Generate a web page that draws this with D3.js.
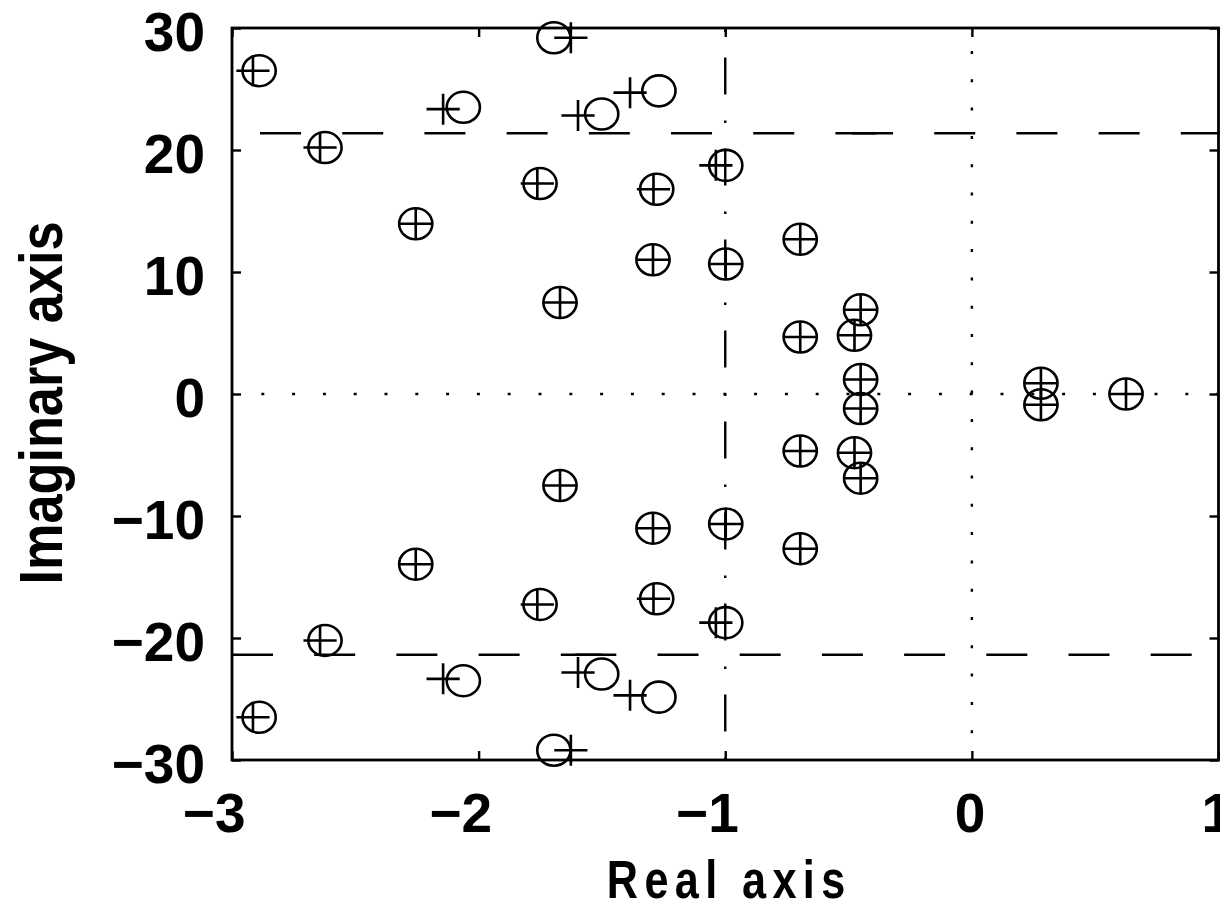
<!DOCTYPE html>
<html>
<head>
<meta charset="utf-8">
<script src="https://cdn.jsdelivr.net/npm/d3@7"></script>
<style>
  html, body { margin: 0; padding: 0; background: #fff; }
  svg { display: block; }
  text { font-family: "Liberation Sans", Arial, Helvetica, sans-serif; font-weight: bold; fill: #000; }
</style>
</head>
<body>
<svg id="chart" width="1220" height="905"></svg>
<script>
// Axis ticks
const xTicks = [-3, -2, -1, 0, 1];
const yTicks = [-30, -20, -10, 0, 10, 20, 30];

// Zeros (drawn as circles): [real, imaginary]
const zeros = [
  [-2.890, 26.5], [-2.890, -26.5],
  [-2.623, 20.2], [-2.623, -20.2],
  [-2.062, 23.5], [-2.062, -23.5],
  [-1.695, 29.2], [-1.695, -29.2],
  [-1.501, 22.95], [-1.501, -22.95],
  [-1.269, 24.85], [-1.269, -24.85],
  [-1.751, 17.25], [-1.751, -17.25],
  [-1.278, 16.78], [-1.278, -16.78],
  [-2.255, 13.95], [-2.255, -13.95],
  [-0.998, 18.74], [-0.998, -18.74],
  [-1.293, 11.0], [-1.293, -11.0],
  [-1.670, 7.5], [-1.670, -7.5],
  [-0.998, 10.65], [-0.998, -10.65],
  [-0.696, 12.68], [-0.696, -12.68],
  [-0.696, 4.67], [-0.696, -4.67],
  [-0.451, 6.9], [-0.451, -6.9],
  [-0.476, 4.81], [-0.476, -4.81],
  [-0.451, 1.19], [-0.451, -1.19],
  [0.280, 0.88], [0.280, -0.88],
  [0.625, 0]
];

// Poles (drawn as plus signs): [real, imaginary]
const poles = [
  [-2.915, 26.5], [-2.915, -26.5],
  [-2.643, 20.2], [-2.643, -20.2],
  [-2.144, 23.35], [-2.144, -23.35],
  [-1.626, 29.2], [-1.626, -29.2],
  [-1.597, 22.83], [-1.597, -22.83],
  [-1.386, 24.7], [-1.386, -24.7],
  [-1.762, 17.25], [-1.762, -17.25],
  [-1.291, 16.78], [-1.291, -16.78],
  [-2.255, 13.95], [-2.255, -13.95],
  [-1.038, 18.74], [-1.038, -18.74],
  [-1.293, 11.0], [-1.293, -11.0],
  [-1.670, 7.5], [-1.670, -7.5],
  [-0.998, 10.65], [-0.998, -10.65],
  [-0.696, 12.68], [-0.696, -12.68],
  [-0.696, 4.67], [-0.696, -4.67],
  [-0.451, 6.9], [-0.451, -6.9],
  [-0.476, 4.81], [-0.476, -4.81],
  [-0.451, 1.19], [-0.451, -1.19],
  [0.280, 0.88], [0.280, -0.88],
  [0.625, 0]
];

// Dashed bandwidth limits (imaginary value) drawn as segments [im, fromRe, toRe]
const limitSegments = [
  [21.37, -0.387, -3], [21.37, -0.486, 1],
  [-21.37, -3, -1.45], [-21.37, -1.608, 1]
];
const stabilityRe = -1;   // dash-dot vertical guide

const svg = d3.select("#chart");
const margin = { left: 232, right: 1218.5, top: 28, bottom: 760 };

const x = d3.scaleLinear().domain([-3, 1]).range([margin.left, margin.right]);
const y = d3.scaleLinear().domain([-30, 30]).range([margin.bottom, margin.top]);

const fmt = v => (v < 0 ? "\u2212" + Math.abs(v) : String(v));
const ink = "#000";

// Reference lines
const guides = svg.append("g").attr("fill", "none").attr("stroke", ink);

// dotted axes through the origin
guides.append("line")
  .attr("x1", x(-3)).attr("x2", x(1)).attr("y1", y(0)).attr("y2", y(0))
  .attr("stroke-width", 2.4).attr("stroke-dasharray", "3 27.8").attr("stroke-dashoffset", 1.5);
guides.append("line")
  .attr("x1", x(0)).attr("x2", x(0)).attr("y1", y(-30)).attr("y2", y(30))
  .attr("stroke-width", 2.4).attr("stroke-dasharray", "3 25.3").attr("stroke-dashoffset", 1.5);

// dash-dot line at Re = -1
guides.append("line")
  .attr("x1", x(stabilityRe)).attr("x2", x(stabilityRe)).attr("y1", y(-30)).attr("y2", y(30))
  .attr("stroke-width", 2.4).attr("stroke-dasharray", "2.5 26 37 25.5");

// dashed horizontal limits
guides.selectAll("line.limit").data(limitSegments).join("line")
  .attr("class", "limit")
  .attr("x1", d => x(d[1])).attr("x2", d => x(d[2]))
  .attr("y1", d => y(d[0])).attr("y2", d => y(d[0]))
  .attr("stroke-width", 2.4).attr("stroke-dasharray", "41 41.2");

// Markers
const rx = 16.6, ry = 15.5;
const marks = svg.append("g").attr("fill", "none").attr("stroke", ink).attr("stroke-width", 2.6);
marks.selectAll("ellipse").data(zeros).join("ellipse")
  .attr("cx", d => x(d[0])).attr("cy", d => y(d[1]))
  .attr("rx", rx).attr("ry", ry);
marks.selectAll("path").data(poles).join("path")
  .attr("d", d => {
    const cx = x(d[0]), cy = y(d[1]);
    return `M${cx - rx},${cy}H${cx + rx}M${cx},${cy - ry}V${cy + ry}`;
  });

// Axes with inward ticks on all four sides
const tickLen = 9;
const axB = svg.append("g").attr("transform", `translate(0,${margin.bottom})`)
  .call(d3.axisBottom(x).tickValues(xTicks).tickSize(-tickLen).tickFormat(fmt));
const axL = svg.append("g").attr("transform", `translate(${margin.left},0)`)
  .call(d3.axisLeft(y).tickValues(yTicks).tickSize(-tickLen).tickFormat(fmt));
svg.append("g").attr("transform", `translate(0,${margin.top})`)
  .call(d3.axisTop(x).tickValues(xTicks).tickSize(-tickLen).tickFormat(""));
svg.append("g").attr("transform", `translate(${margin.right},0)`)
  .call(d3.axisRight(y).tickValues(yTicks).tickSize(-tickLen).tickFormat(""));

svg.selectAll(".domain").remove();
svg.selectAll(".tick line").attr("stroke", ink).attr("stroke-width", 2.4);

axB.selectAll(".tick text")
  .attr("y", 72).attr("dy", 0).attr("dx", 13)
  .attr("text-anchor", "end")
  .style("font-size", "55px").style("font-family", "'Liberation Sans', Arial, sans-serif")
  .style("font-weight", "bold").attr("fill", ink);
axL.selectAll(".tick text")
  .attr("x", 205 - margin.left).attr("dy", 0).attr("y", 22)
  .attr("text-anchor", "end")
  .style("font-size", "55px").style("font-family", "'Liberation Sans', Arial, sans-serif")
  .style("font-weight", "bold").attr("fill", ink);

// Box
svg.append("rect")
  .attr("x", margin.left).attr("y", margin.top)
  .attr("width", margin.right - margin.left).attr("height", margin.bottom - margin.top)
  .attr("fill", "none").attr("stroke", ink).attr("stroke-width", 2.8);

// Axis titles
svg.append("text")
  .attr("transform", `translate(${(margin.left + margin.right) / 2 + 4},898) scale(0.8,1)`)
  .attr("text-anchor", "middle")
  .attr("letter-spacing", 8)
  .style("font-size", "54px")
  .text("Real axis");

svg.append("text")
  .attr("transform", `translate(62,403) rotate(-90) scale(0.857,1)`)
  .attr("text-anchor", "middle")
  .style("font-size", "61px")
  .text("Imaginary axis");
</script>
</body>
</html>
